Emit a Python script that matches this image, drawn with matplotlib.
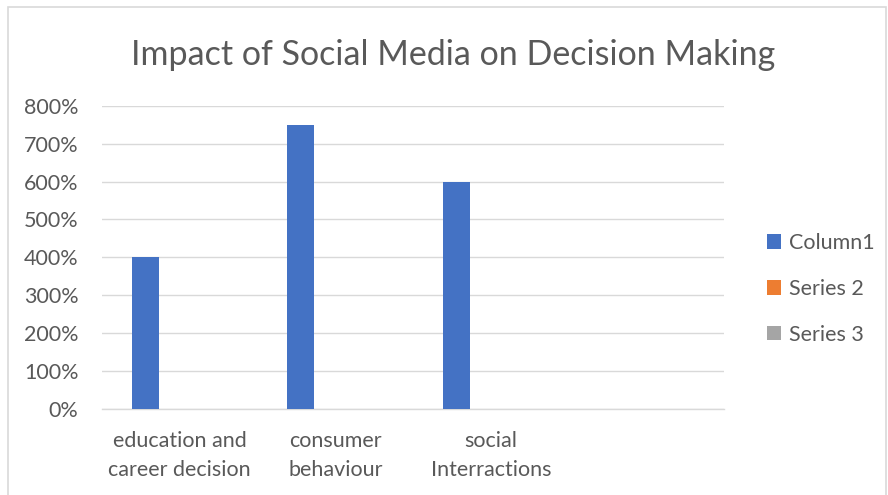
import matplotlib
matplotlib.use("Agg")
import matplotlib.pyplot as plt
from matplotlib.patches import Rectangle
import numpy as np

categories = ["education and\ncareer decision", "consumer\nbehaviour", "social\nInterractions", ""]
series_names = ["Column1", "Series 2", "Series 3"]
column1 = [4.0, 7.5, 6.0, np.nan]
series2 = [np.nan, np.nan, np.nan, np.nan]
series3 = [np.nan, np.nan, np.nan, np.nan]
yticks = [0, 1, 2, 3, 4, 5, 6, 7, 8]
ytick_labels = ["0%", "100%", "200%", "300%", "400%", "500%", "600%", "700%", "800%"]
colors = ["#4472C4", "#ED7D31", "#A5A5A5"]

plt.rcParams['font.family'] = ['Lato', 'DejaVu Sans']
W, H = 888, 495
fig = plt.figure(figsize=(W/100, H/100), dpi=100)
fig.patches.append(Rectangle((8/W, -0.01), (886-8)/W, (H-7)/H + 0.01, transform=fig.transFigure,
                             fill=False, edgecolor="#D9D9D9", linewidth=1.2))

ax = fig.add_axes([102/W, (H-409)/H, (724-102)/W, (409-105.7)/H])
x = np.arange(len(categories))
bw = 0.174
off = 0.222
for i, (vals, name) in enumerate(zip([column1, series2, series3], series_names)):
    ax.bar(x + (i-1)*off, vals, width=bw, color=colors[i], label=name, zorder=3)

ax.set_xlim(-0.5, len(categories)-0.5)
ax.set_ylim(0, 8)
ax.set_yticks(yticks)
ax.set_yticklabels(ytick_labels)
ax.set_xticks(x)
ax.set_xticklabels(categories, linespacing=1.55)
ax.grid(axis='y', color="#D9D9D9", linewidth=1, zorder=0)
for s in ["top", "right", "left"]:
    ax.spines[s].set_visible(False)
ax.spines["bottom"].set_color("#D9D9D9")
ax.spines["bottom"].set_linewidth(1)
ax.tick_params(axis='both', length=0, labelsize=15.5, colors="#595959")
ax.tick_params(axis='y', pad=17)
ax.tick_params(axis='x', pad=16)

fig.text(453/W, 1-55/H, "Impact of Social Media on Decision Making", ha="center", va="center",
         fontsize=24.5, color="#595959")

handles, labels = ax.get_legend_handles_labels()
leg = fig.legend(handles, labels, loc="center left", bbox_to_anchor=(748/W, 1-289/H),
                 frameon=False, fontsize=15.5, handlelength=0.65, handleheight=0.65,
                 handletextpad=0.35, labelspacing=1.2, labelcolor="#595959")

fig.savefig("out.png", dpi=100)
